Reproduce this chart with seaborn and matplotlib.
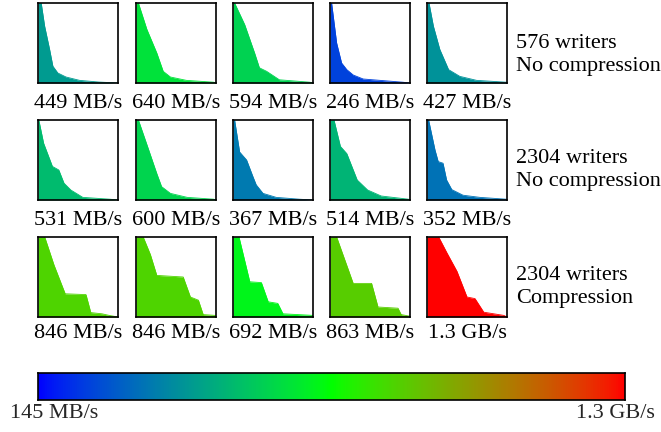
import numpy as np
import pandas as pd
import matplotlib
matplotlib.use("Agg")
import matplotlib.pyplot as plt
import seaborn as sns
from matplotlib.colors import LinearSegmentedColormap, Normalize

sns.set_theme(style="white")
plt.rcParams['font.family'] = ['Liberation Serif', 'DejaVu Serif']

# ---- data ----
row_labels = ["576 writers\nNo compression", "2304 writers\nNo compression", "2304 writers\nCompression"]
throughput = [[449, 640, 594, 246, 427],
              [531, 600, 367, 514, 352],
              [846, 846, 692, 863, 1300]]
tick_text = [["449 MB/s", "640 MB/s", "594 MB/s", "246 MB/s", "427 MB/s"],
             ["531 MB/s", "600 MB/s", "367 MB/s", "514 MB/s", "352 MB/s"],
             ["846 MB/s", "846 MB/s", "692 MB/s", "863 MB/s", "1.3 GB/s"]]
vmin, vmax = 145, 1300
cbar_labels = ["145 MB/s", "1.3 GB/s"]

# sorted per-writer throughput profiles (x = fraction of writers, y = fraction of max)
curve_x = [
    [[0, 0.04, 0.083, 0.145, 0.186, 0.248, 0.35, 0.52, 0.76, 1.0],
     [0, 0.03, 0.136, 0.26, 0.34, 0.43, 0.63, 0.97, 1.0],
     [0, 0.02, 0.146, 0.27, 0.33, 0.42, 0.58, 0.96, 1.0],
     [0, 0.02, 0.083, 0.145, 0.21, 0.29, 0.415, 0.91, 1.0],
     [0, 0.025, 0.08, 0.16, 0.27, 0.41, 0.62, 0.99, 1.0]],
    [[0, 0.01, 0.07, 0.18, 0.26, 0.325, 0.41, 0.56, 0.9, 1.0],
     [0, 0.03, 0.13, 0.26, 0.32, 0.43, 0.64, 0.97, 1.0],
     [0, 0.02, 0.083, 0.17, 0.25, 0.29, 0.375, 0.54, 0.83, 1.0],
     [0, 0.05, 0.13, 0.21, 0.34, 0.47, 0.64, 0.98, 1.0],
     [0, 0.02, 0.1, 0.14, 0.2, 0.245, 0.31, 0.45, 0.66, 0.99, 1.0]],
    [[0, 0.084, 0.2, 0.34, 0.6, 0.66, 0.8, 0.89, 1.0],
     [0, 0.09, 0.18, 0.26, 0.59, 0.68, 0.78, 0.84, 0.99, 1.0],
     [0, 0.075, 0.21, 0.355, 0.44, 0.56, 0.625, 1.0],
     [0, 0.083, 0.29, 0.52, 0.6, 0.85, 0.89, 1.0],
     [0, 0.146, 0.25, 0.375, 0.5, 0.6, 0.71, 0.96, 1.0]],
]
curve_y = [
    [[1.0, 1.0, 0.71, 0.42, 0.21, 0.125, 0.075, 0.033, 0.012, 0.0],
     [1.0, 1.0, 0.67, 0.375, 0.146, 0.075, 0.033, 0.01, 0.0],
     [1.0, 1.0, 0.73, 0.375, 0.19, 0.146, 0.04, 0.01, 0.0],
     [1.0, 1.0, 0.5, 0.25, 0.167, 0.1, 0.05, 0.01, 0.0],
     [1.0, 1.0, 0.71, 0.42, 0.167, 0.083, 0.033, 0.01, 0.0]],
    [[1.0, 1.0, 0.71, 0.42, 0.375, 0.21, 0.125, 0.033, 0.01, 0.0],
     [1.0, 1.0, 0.71, 0.33, 0.167, 0.083, 0.033, 0.01, 0.0],
     [1.0, 1.0, 0.6, 0.5, 0.29, 0.19, 0.083, 0.033, 0.01, 0.0],
     [1.0, 1.0, 0.67, 0.58, 0.25, 0.125, 0.05, 0.01, 0.0],
     [1.0, 1.0, 0.625, 0.48, 0.46, 0.25, 0.13, 0.06, 0.033, 0.01, 0.0]],
    [[1.0, 1.0, 0.65, 0.29, 0.28, 0.055, 0.04, 0.02, 0.0],
     [1.0, 1.0, 0.78, 0.52, 0.5, 0.25, 0.21, 0.03, 0.02, 0.0],
     [1.0, 1.0, 0.44, 0.43, 0.19, 0.17, 0.04, 0.02],
     [1.0, 1.0, 0.42, 0.42, 0.125, 0.11, 0.03, 0.01],
     [1.0, 1.0, 0.8, 0.57, 0.25, 0.23, 0.06, 0.02, 0.0]],
]

# blue -> green -> red blend with a mild gamma
gam = 1.0 / 1.3
stops = []
for t in np.linspace(0, 1, 65):
    if t <= 0.5:
        f = t / 0.5
        stops.append((t, (0.0, f ** gam, (1 - f) ** gam)))
    else:
        f = (t - 0.5) / 0.5
        stops.append((t, (f ** gam, (1 - f) ** gam, 0.0)))
cmap = LinearSegmentedColormap.from_list("bgr", stops)
norm = Normalize(vmin=vmin, vmax=vmax)

W, H = 661, 432
fig = plt.figure(figsize=(W / 100, H / 100), dpi=100)
fig.patch.set_facecolor("white")

def fax(x0, y0, w, h):
    return fig.add_axes([x0 / W, 1 - (y0 + h) / H, w / W, h / H])

col_x = [38, 136, 233, 330, 427]
row_y = [3, 120, 237]
label_y = [103, 220, 333]
rowlab_y = [55, 170, 287]
PW = 80
FS = 16

for r in range(3):
    for c in range(5):
        ax = fax(col_x[c], row_y[r], PW, PW)
        df = pd.DataFrame({"x": curve_x[r][c], "y": curve_y[r][c]})
        color = cmap(norm(throughput[r][c]))
        sns.lineplot(data=df, x="x", y="y", ax=ax, color=color, linewidth=0.6, sort=False)
        ax.fill_between(df["x"], df["y"], 0, color=color, linewidth=0)
        ax.set_xlim(0, 1)
        ax.set_ylim(0, 1)
        ax.set_xticks([])
        ax.set_yticks([])
        ax.set_xlabel("")
        ax.set_ylabel("")
        for s in ax.spines.values():
            s.set_visible(True)
            s.set_color("black")
            s.set_linewidth(1.2)
        fig.text((col_x[c] + PW / 2) / W, 1 - label_y[r] / H, tick_text[r][c],
                 ha="center", va="center", fontsize=FS, color="black")
    fig.text(516 / W, 1 - rowlab_y[r] / H, row_labels[r], ha="left", va="center",
             fontsize=FS, color="black", linespacing=1.3)

# colour bar
cax = fax(38, 373, 587, 27)
grad = np.linspace(0, 1, 512).reshape(1, -1)
cax.imshow(grad, aspect="auto", cmap=cmap, extent=[0, 1, 0, 1])
cax.set_xticks([])
cax.set_yticks([])
for s in cax.spines.values():
    s.set_visible(True)
    s.set_color("black")
    s.set_linewidth(1.2)
fig.text(10 / W, 1 - 413 / H, cbar_labels[0], ha="left", va="center", fontsize=FS)
fig.text(655 / W, 1 - 413 / H, cbar_labels[1], ha="right", va="center", fontsize=FS)

fig.savefig("out.png", dpi=100, facecolor="white")
